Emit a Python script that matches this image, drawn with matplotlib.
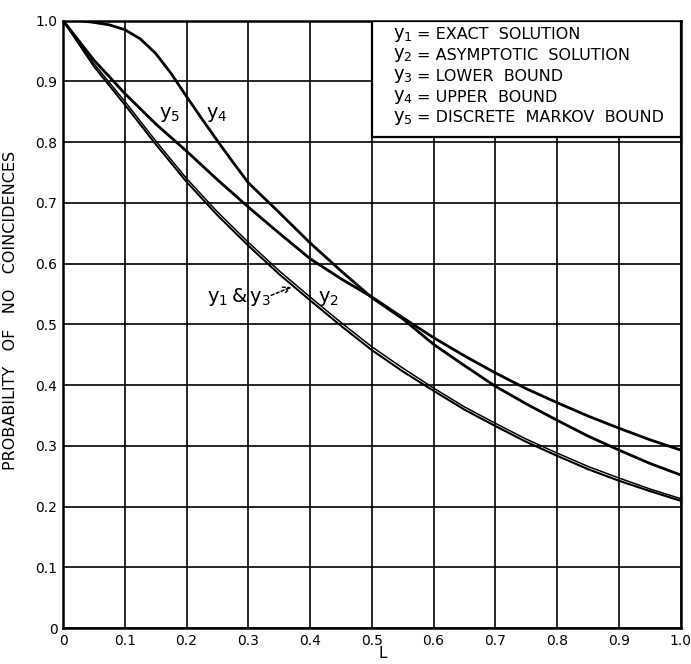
#!/usr/bin/env python
"""
Probability of no coincidences vs L, five curves on a ruled grid.
"""
import matplotlib
matplotlib.use('Agg')
import matplotlib.pyplot as plt
from matplotlib.patches import Rectangle

plt.rcParams['font.family'] = ['DejaVu Sans']

L = [0.0, 0.05, 0.1, 0.15, 0.2, 0.25, 0.3, 0.35, 0.4, 0.45, 0.5,
     0.55, 0.6, 0.65, 0.7, 0.75, 0.8, 0.85, 0.9, 0.95, 1.0]

# exact solution
y1 = [1.0, 0.925, 0.862, 0.797, 0.735, 0.680, 0.630, 0.583, 0.540, 0.498, 0.458,
      0.423, 0.391, 0.360, 0.333, 0.307, 0.284, 0.262, 0.243, 0.226, 0.210]
# asymptotic solution
y2 = [1.0, 0.929, 0.867, 0.802, 0.740, 0.685, 0.635, 0.588, 0.545, 0.503, 0.463,
      0.428, 0.395, 0.364, 0.337, 0.311, 0.288, 0.266, 0.247, 0.229, 0.213]
# lower bound
y3 = [1.0, 0.924, 0.861, 0.796, 0.734, 0.679, 0.629, 0.582, 0.539, 0.497, 0.457,
      0.422, 0.390, 0.359, 0.332, 0.306, 0.283, 0.261, 0.242, 0.225, 0.209]

# upper bound (read on a finer step where it bends)
L4 = [0.0, 0.025, 0.05, 0.075, 0.1, 0.125, 0.15, 0.175, 0.2, 0.225, 0.25, 0.275,
      0.3, 0.35, 0.4, 0.45, 0.5, 0.55, 0.6, 0.65, 0.7, 0.75, 0.8, 0.85, 0.9, 0.95, 1.0]
y4 = [1.0, 1.0, 0.997, 0.993, 0.985, 0.970, 0.946, 0.913, 0.875, 0.838, 0.802, 0.767,
      0.733, 0.684, 0.634, 0.588, 0.544, 0.509, 0.467, 0.432, 0.398, 0.369, 0.342,
      0.316, 0.293, 0.271, 0.252]

# discrete markov bound
y5 = [1.0, 0.935, 0.880, 0.830, 0.785, 0.738, 0.693, 0.650, 0.608, 0.575, 0.545,
      0.511, 0.478, 0.448, 0.420, 0.394, 0.371, 0.349, 0.329, 0.310, 0.293]

xticks = [0, 0.1, 0.2, 0.3, 0.4, 0.5, 0.6, 0.7, 0.8, 0.9, 1.0]
xticklabels = ['0', '0.1', '0.2', '0.3', '0.4', '0.5', '0.6', '0.7', '0.8', '0.9', '1.0']
yticks = xticks
yticklabels = xticklabels

key_lines = [
    ('1', 'EXACT  SOLUTION'),
    ('2', 'ASYMPTOTIC  SOLUTION'),
    ('3', 'LOWER  BOUND'),
    ('4', 'UPPER  BOUND'),
    ('5', 'DISCRETE  MARKOV  BOUND'),
]


def ysub(n):
    return r'$\mathsf{y}_{\mathsf{%s}}$' % n


def plot(outfile='out.png'):
    fig = plt.figure(figsize=(6.91, 6.64), dpi=100)
    ax = fig.add_axes([0.0912, 0.0542, 0.8938, 0.9148])

    ax.set_xlim(0, 1.0)
    ax.set_ylim(0, 1.0)
    ax.set_xticks(xticks)
    ax.set_xticklabels(xticklabels)
    ax.set_yticks(yticks)
    ax.set_yticklabels(yticklabels)
    ax.tick_params(length=0, labelsize=10, pad=4)
    ax.grid(True, color='black', linewidth=1.2)
    ax.set_axisbelow(True)
    for s in ax.spines.values():
        s.set_linewidth(1.8)

    ax.set_ylabel('PROBABILITY   OF   NO   COINCIDENCES', fontsize=11.5)
    ax.yaxis.set_label_coords(-0.073, 0.522)
    ax.set_xlabel('L', fontsize=11)
    ax.xaxis.set_label_coords(0.518, -0.030)

    ax.plot(L, y1, color='black', linewidth=1.1, zorder=3)
    ax.plot(L, y2, color='black', linewidth=1.1, zorder=3)
    ax.plot(L, y3, color='black', linewidth=1.1, zorder=3)
    ax.plot(L4, y4, color='black', linewidth=2.0, zorder=3)
    ax.plot(L, y5, color='black', linewidth=2.0, zorder=3)

    # curve labels
    ax.text(0.155, 0.845, ysub('5'), fontsize=14, va='center', ha='left')
    ax.text(0.232, 0.845, ysub('4'), fontsize=14, va='center', ha='left')
    ax.text(0.413, 0.542, ysub('2'), fontsize=14, va='center', ha='left')
    ax.text(0.233, 0.545, ysub('1') + r'$\,$&$\,$' + ysub('3'), fontsize=14,
            va='center', ha='left')
    ax.annotate('', xy=(0.374, 0.563), xytext=(0.333, 0.546),
                arrowprops=dict(arrowstyle='->', linestyle=(0, (2, 1.5)),
                                color='black', linewidth=1.1, mutation_scale=12))

    # key box
    ax.add_patch(Rectangle((0.5, 0.808), 0.5, 0.192, facecolor='white',
                           edgecolor='black', linewidth=1.6, zorder=4))
    for i, (n, txt) in enumerate(key_lines):
        yy = 0.977 - i * 0.0343
        ax.text(0.534, yy, ysub(n), fontsize=13, va='center', ha='left', zorder=5)
        ax.text(0.573, yy, '= ' + txt, fontsize=11.5, va='center', ha='left', zorder=5)

    fig.savefig(outfile, dpi=100)


if __name__ == '__main__':
    plot()
